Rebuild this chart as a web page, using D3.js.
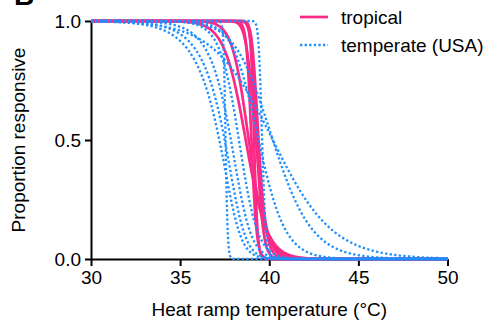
<!DOCTYPE html>
<html>
<head>
<meta charset="utf-8">
<script src="https://cdn.jsdelivr.net/npm/d3@7"></script>
<style>
	body { margin: 0; background: #fff; }
	svg { display: block; font-family: "Liberation Sans", Arial, Helvetica, sans-serif; }
	.axis path, .axis line { stroke: #000; stroke-width: 2; }
	.axis text { fill: #000; font-size: 19px; }
</style>
</head>
<body>
<div id="chart"></div>
<script>
// fitted sigmoid per animal
// t50 = temperature at 50% responsive, sTop / sBot = spread above / below it (°C)
var tropicalT50  = [38.68, 38.85, 39.0, 39.15, 39.3, 39.4, 39.25];
var tropicalSTop = [0.60, 0.40, 0.12, 0.08, 0.10, 0.07, 0.15];
var tropicalSBot = [0.60, 0.50, 0.15, 0.10, 0.20, 0.25, 0.35];

var temperateT50  = [37.55, 37.2, 37.5, 37.85, 38.3, 39.6, 40.2, 40.2, 39.4];
var temperateSTop = [0.05, 1.2, 1.1, 0.9, 0.6, 0.06, 1.6, 0.8, 0.6];
var temperateSBot = [0.06, 0.4, 0.4, 0.45, 0.5, 0.12, 1.7, 1.2, 0.8];

var xTicks = [30, 35, 40, 45, 50];
var yTicks = [0, 0.5, 1];
var seriesNames = ["tropical", "temperate (USA)"];

var width = 487;
var height = 322;
var pink = "#fa2a87";
var blue = "#1e8fff";

var svg = d3.select("#chart").append("svg")
	.attr("width", width)
	.attr("height", height);

var x = d3.scaleLinear().domain([30, 50]).range([91, 447.5]);
var y = d3.scaleLinear().domain([0, 1]).range([259, 21]);

// asymmetric logistic (Richards) : p = 1 - (1 + nu*e^-z)^(-1/nu)
function responsive(t, t50, sTop, sBot) {
	var nu = sTop / sBot;
	var z50 = -Math.log((Math.pow(2, nu) - 1) / nu);
	var z = (t - t50) / sBot + z50;
	return 1 - Math.pow(1 + nu * Math.exp(-z), -1 / nu);
}

var temps = d3.range(30, 50.0001, 0.02);

function makeCurves(t50s, sTops, sBots) {
	return t50s.map(function(t50, i) {
		return temps.map(function(t) {
			return [t, responsive(t, t50, sTops[i], sBots[i])];
		});
	});
}

var tropical = makeCurves(tropicalT50, tropicalSTop, tropicalSBot);
var temperate = makeCurves(temperateT50, temperateSTop, temperateSBot);

// axes
svg.append("g")
	.attr("class", "axis")
	.attr("transform", "translate(0," + y(0) + ")")
	.call(d3.axisBottom(x).tickValues(xTicks).tickSize(7).tickSizeOuter(0).tickPadding(5));

svg.append("g")
	.attr("class", "axis")
	.attr("transform", "translate(" + x(30) + ",0)")
	.call(d3.axisLeft(y).tickValues(yTicks).tickSize(6).tickSizeOuter(0).tickPadding(4)
		.tickFormat(d3.format(".1f")));

var line = d3.line()
	.x(d => x(d[0]))
	.y(d => y(d[1]));

svg.append("g")
	.selectAll("path")
	.data(tropical)
	.enter().append("path")
	.attr("d", line)
	.attr("fill", "none")
	.attr("stroke", pink)
	.attr("stroke-width", 2.7);

svg.append("g")
	.selectAll("path")
	.data(temperate)
	.enter().append("path")
	.attr("d", line)
	.attr("fill", "none")
	.attr("stroke", blue)
	.attr("stroke-width", 2.3)
	.attr("stroke-dasharray", "2.3,2.3");

// legend
var legend = svg.append("g");
legend.append("line")
	.attr("x1", 300).attr("x2", 328).attr("y1", 17).attr("y2", 17)
	.attr("stroke", pink).attr("stroke-width", 2.7);
legend.append("line")
	.attr("x1", 300).attr("x2", 328).attr("y1", 45).attr("y2", 45)
	.attr("stroke", blue).attr("stroke-width", 2.3).attr("stroke-dasharray", "2.3,2.3");
legend.selectAll("text")
	.data(seriesNames)
	.enter().append("text")
	.attr("x", 341)
	.attr("y", (d, i) => 24 + i * 28)
	.attr("font-size", 19)
	.text(d => d);

// axis titles
svg.append("text")
	.attr("x", (x(30) + x(50)) / 2)
	.attr("y", 316)
	.attr("text-anchor", "middle")
	.attr("font-size", 19)
	.text("Heat ramp temperature (°C)");

svg.append("text")
	.attr("transform", "translate(25," + (y(0) + y(1)) / 2 + ") rotate(-90)")
	.attr("text-anchor", "middle")
	.attr("font-size", 19)
	.text("Proportion responsive");

// panel letter, cut off at the top
svg.append("text")
	.attr("x", 14)
	.attr("y", 5)
	.attr("font-size", 28)
	.attr("font-weight", "bold")
	.text("B");
</script>
</body>
</html>
